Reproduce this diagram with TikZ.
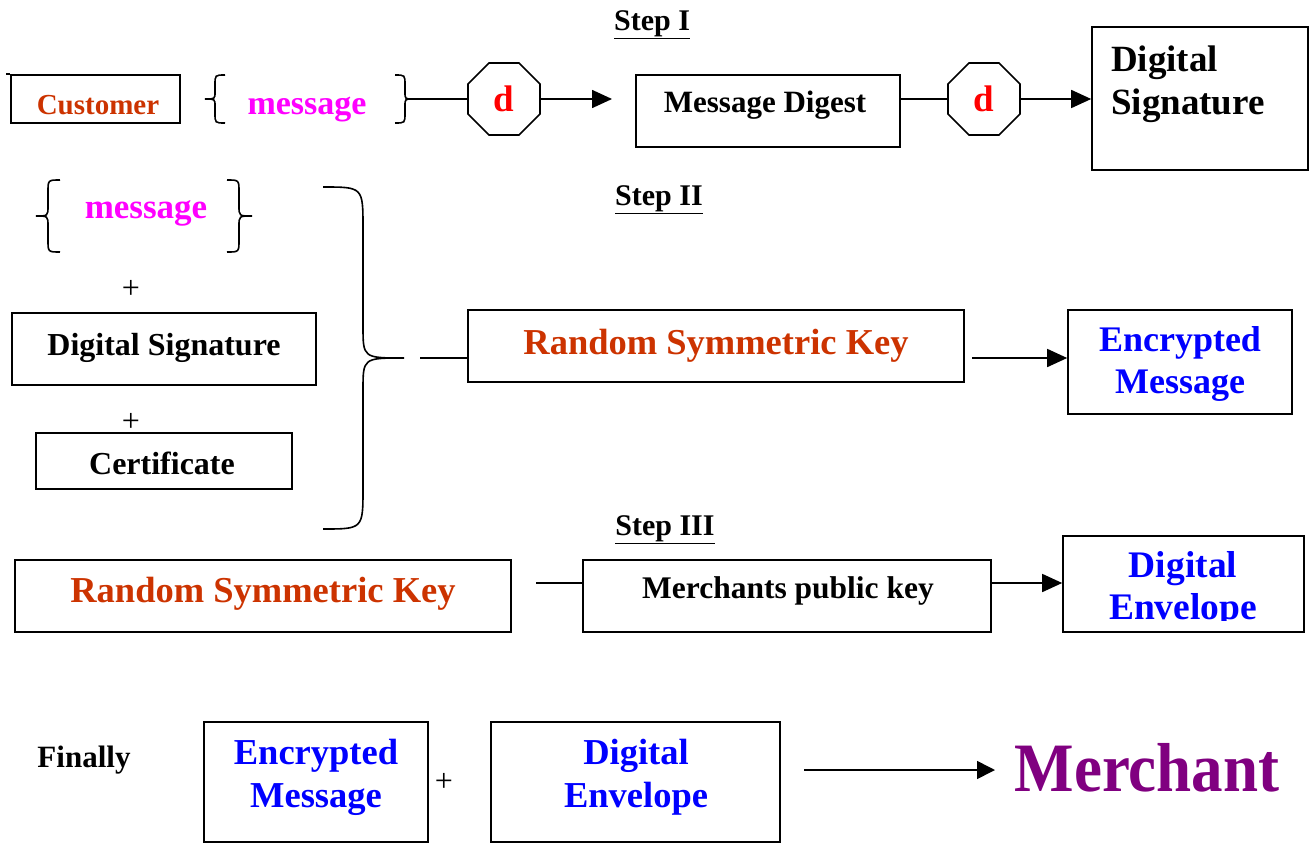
\documentclass[tikz,border=0pt]{standalone}
\usepackage{fontspec}
\usepackage{graphicx}
\setmainfont{Liberation Serif}
\usetikzlibrary{shapes.geometric,arrows.meta}
\definecolor{orred}{HTML}{CC3300}
\definecolor{mag}{HTML}{FF00FF}
\definecolor{dred}{HTML}{FF0000}
\definecolor{dblue}{HTML}{0000FF}
\definecolor{purp}{HTML}{800080}
\newcommand{\bfs}[2]{\bfseries\fontsize{#1}{#2}\selectfont}
\tikzset{
  box/.style={draw, line width=1.6pt, inner sep=0pt},
  oct/.style={draw, regular polygon, regular polygon sides=8, minimum size=78pt, line width=1.6pt, inner sep=0pt, text=dred, font=\bfs{37}{42}},
  conn/.style={line width=1.6pt},
  arr/.style={line width=1.6pt, -{Triangle[length=20pt,width=18pt]}},
  brc/.style={line width=1.6pt},
  steplabel/.style={font=\bfs{30}{36}},
  plus/.style={font=\fontsize{32}{38}\selectfont},
  txt/.style={inner sep=0pt, align=center}
}
\begin{document}
\begin{tikzpicture}[x=1pt,y=-1pt]
\useasboundingbox (0,0) rectangle (1312,843);

% Step labels
\node[steplabel] (s1) at (652,25) {\underline{Step I}};
\node[steplabel] (s2) at (659,200) {\underline{Step II}};
\node[steplabel] (s3) at (665,530) {\underline{Step III}};

% ---------- Step I ----------
\node[box, minimum width=169pt, minimum height=48pt] (cust) at (95.5,99) {};
\node[txt, text=orred, font=\bfs{29}{34}] (custt) at (98,105) {Customer};
\draw[conn] (cust.north west) -- ++(-4,0);

\draw[brc] (225,75) .. controls (215,75) .. (215,85) -- (215,92) .. controls (215,99) .. (205,99)
  .. controls (215,99) .. (215,106) -- (215,113) .. controls (215,123) .. (225,123);
\draw[brc] (395,75) .. controls (405,75) .. (405,85) -- (405,92) .. controls (405,99) .. (413,99)
  .. controls (405,99) .. (405,106) -- (405,113) .. controls (405,123) .. (395,123);
\coordinate (b1) at (413,99);
\node[txt, text=mag, font=\bfs{34}{40}] (msg1) at (307,110) {message};

\node[oct] (d1) at (504,99) {d};
\draw[conn] (b1) -- (d1.west);
\coordinate (a1) at (612,99);
\draw[arr] (d1.east) -- (a1);

\node[box, minimum width=264pt, minimum height=72pt] (md) at (768,111) {};
\node[txt, font=\bfs{31}{36}] (mdt) at (765,105) {Message Digest};

\node[oct] (d2) at (984,99) {d};
\draw[conn] (md.east |- d2.west) -- (d2.west);

\node[box, minimum width=216pt, minimum height=143pt] (ds) at (1200,98.5) {};
\node[txt, anchor=north west, align=left, font=\bfs{37}{43}] (dst) at (1111,46) {Digital\\Signature};
\draw[arr] (d2.east) -- (d2.east -| ds.west);

% ---------- Step II ----------
\draw[brc] (60,180) .. controls (48,180) .. (48,192) -- (48,206) .. controls (48,216) .. (36,216)
  .. controls (48,216) .. (48,226) -- (48,240) .. controls (48,252) .. (60,252);
\draw[brc] (227,180) .. controls (239,180) .. (239,192) -- (239,206) .. controls (239,216) .. (252,216)
  .. controls (239,216) .. (239,226) -- (239,240) .. controls (239,252) .. (227,252);
\node[txt, text=mag, font=\bfs{35}{40}] (msg2) at (146,213) {message};

\node[plus] (p1) at (131,289) {+};
\node[box, minimum width=304pt, minimum height=72pt] (ds2) at (164,349) {};
\node[txt, font=\bfs{32}{38}] (ds2t) at (164,348) {Digital Signature};
\node[plus] (p2) at (131,422) {+};
\node[box, minimum width=256pt, minimum height=56pt] (cert) at (164,461) {};
\node[txt, font=\bfs{32}{38}] (certt) at (162,463) {Certificate};

\draw[brc] (323,187) .. controls (363,187) .. (363,228) -- (363,326) .. controls (363,358) .. (404,358)
  .. controls (363,358) .. (363,390) -- (363,488) .. controls (363,529) .. (323,529);
\coordinate (bl) at (420,358);

\node[box, minimum width=496pt, minimum height=72pt] (rsk) at (716,346) {};
\node[txt, text=orred, font=\bfs{36.5}{42}] (rskt) at (716,346) {Random Symmetric Key};
\draw[conn] (bl) -- (bl -| rsk.west);

\node[box, minimum width=224pt, minimum height=104pt] (em) at (1180,362) {};
\node[txt, text=dblue, font=\bfs{36}{42}] (emt) at (1180,364) {Encrypted\\Message};
\coordinate (ea) at (972,358);
\draw[arr] (ea) -- (ea -| em.west);

% ---------- Step III ----------
\node[box, minimum width=496pt, minimum height=72pt] (rsk2) at (263,596) {};
\node[txt, text=orred, font=\bfs{36.5}{42}] (rsk2t) at (263,594) {Random Symmetric Key};

\node[box, minimum width=408pt, minimum height=72pt] (mpk) at (787,596) {};
\node[txt, font=\bfs{31.5}{37}] (mpkt) at (788,591) {Merchants public key};
\coordinate (l3) at (536,583);
\draw[conn] (l3) -- (l3 -| mpk.west);

\node[box, minimum width=241pt, minimum height=96pt] (de) at (1183.5,584) {};
\begin{scope}
  \clip (de.north west) rectangle ([yshift=12pt]de.south east);
  \node[txt, text=dblue, font=\bfs{37.5}{42}] (det) at (1183,589) {Digital\\Envelope};
\end{scope}
\draw[arr] (mpk.east |- l3) -- (de.west |- l3);

% ---------- Finally ----------
\node[txt, font=\bfs{31}{37}] (fin) at (84,760) {Finally};
\node[box, minimum width=224pt, minimum height=120pt] (fb1) at (316,782) {};
\node[txt, text=dblue, font=\bfs{36.5}{43}] (fb1t) at (316,777) {Encrypted\\Message};
\node[plus] (p3) at (444,782) {+};
\node[box, minimum width=289pt, minimum height=120pt] (fb2) at (635.5,782) {};
\node[txt, text=dblue, font=\bfs{36.5}{43}] (fb2t) at (636,777) {Digital\\Envelope};
\coordinate (fa) at (804,770);
\coordinate (fb) at (995,770);
\draw[line width=1.6pt, -{Triangle[length=18pt,width=18pt]}] (fa) -- (fb);
\node[txt, text=purp, font=\bfs{63}{70}] (mer) at (1147,768) {\scalebox{1}[1.1]{Merchant}};
\end{tikzpicture}
\end{document}
